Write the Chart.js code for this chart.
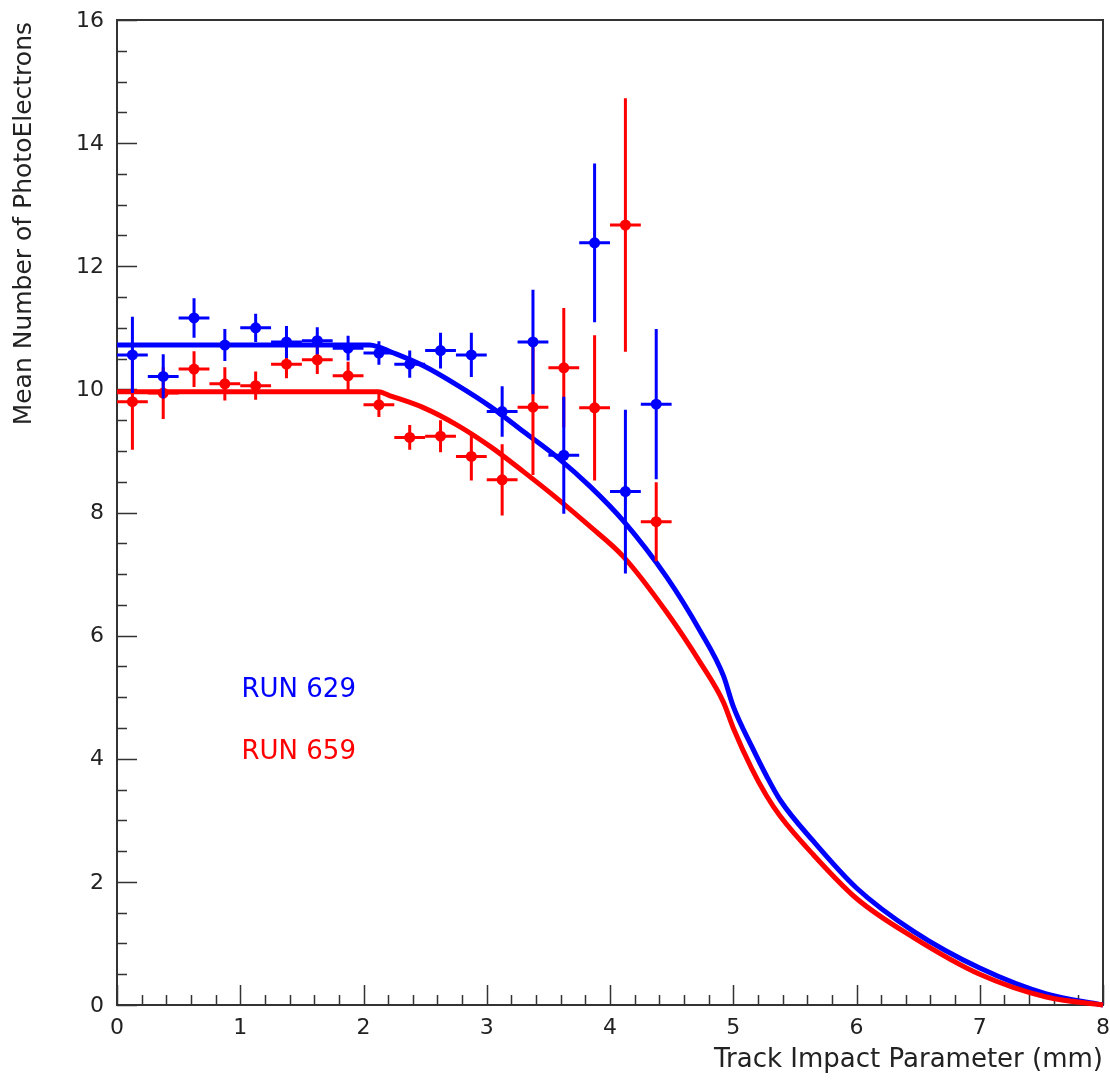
<!DOCTYPE html>
<html>
<head>
<meta charset="utf-8">
<script src="https://cdn.jsdelivr.net/npm/chart.js@4.4.0/dist/chart.umd.min.js"></script>
<style>
  html, body { margin: 0; padding: 0; background: #ffffff; }
  #wrap { width: 1110px; height: 1080px; }
</style>
</head>
<body>
<div id="wrap"><canvas id="c" width="1110" height="1080"></canvas></div>
<script>
// ---- data ----
const binCenters = [0.125, 0.375, 0.625, 0.875, 1.125, 1.375, 1.625, 1.875, 2.125,
                    2.375, 2.625, 2.875, 3.125, 3.375, 3.625, 3.875, 4.125, 4.375];
const binHalfWidth = 0.125;

const blueValues = [10.56, 10.21, 11.16, 10.72, 11.00, 10.77, 10.79, 10.67, 10.59,
                    10.41, 10.63, 10.56, 9.64, 10.77, 8.93, 12.38, 8.34, 9.76];
const blueErrors = [0.62, 0.36, 0.32, 0.26, 0.23, 0.26, 0.22, 0.20, 0.19,
                    0.22, 0.29, 0.36, 0.41, 0.85, 0.95, 1.29, 1.33, 1.22];

const redValues  = [9.80, 9.94, 10.33, 10.09, 10.06, 10.41, 10.48, 10.22, 9.75,
                    9.22, 9.24, 8.91, 8.53, 9.71, 10.35, 9.70, 12.67, 7.85];
const redErrors  = [0.78, 0.42, 0.29, 0.27, 0.23, 0.23, 0.23, 0.23, 0.20,
                    0.20, 0.26, 0.39, 0.58, 1.10, 0.97, 1.18, 2.06, 0.64];

const fitX    = [0, 1, 2.05, 2.12, 2.21, 2.49, 2.76, 3.03, 3.30, 3.57, 3.84, 4.11, 4.46,
                 4.73, 4.92, 5.0, 5.15, 5.27, 5.38, 5.65, 6.0, 6.46, 7.0, 7.54, 8.0];
const blueFit = [10.72, 10.72, 10.72, 10.69, 10.62, 10.38, 10.07, 9.72, 9.31, 8.90, 8.42, 7.86, 6.95,
                 6.08, 5.35, 4.85, 4.20, 3.72, 3.33, 2.66, 1.90, 1.20, 0.60, 0.18, 0];
const redFit  = [9.96, 9.96, 9.96, 9.96, 9.90, 9.70, 9.42, 9.07, 8.66, 8.23, 7.77, 7.28, 6.38,
                 5.57, 4.92, 4.50, 3.84, 3.40, 3.07, 2.44, 1.73, 1.10, 0.50, 0.13, 0];

const xTickLabels = ['0', '1', '2', '3', '4', '5', '6', '7', '8'];
const yTickLabels = ['0', '2', '4', '6', '8', '10', '12', '14', '16'];
const runLabels = ['RUN 629', 'RUN 659'];
const xTitle = 'Track Impact Parameter (mm)';
const yTitle = 'Mean Number of PhotoElectrons';

// ---- styling ----
const BLUE = '#0000ff';
const RED = '#ff0000';
const AXIS = '#333333';
const TEXT = '#222222';
const FONT = "'DejaVu Sans', 'Liberation Sans', sans-serif";

const toPts = (xs, ys) => xs.map((x, i) => ({ x: x, y: ys[i] }));

const errorBarPlugin = {
  id: 'errorBars',
  beforeDatasetDraw(chart, args) {
    const ds = chart.data.datasets[args.index];
    if (!ds.errors) return;
    const ctx = chart.ctx;
    const xs = chart.scales.x, ys = chart.scales.y;
    ctx.save();
    ctx.strokeStyle = ds.borderColor;
    ctx.lineWidth = 3;
    ctx.lineCap = 'butt';
    ds.data.forEach((p, i) => {
      const e = ds.errors[i];
      const px = xs.getPixelForValue(p.x);
      const py = ys.getPixelForValue(p.y);
      ctx.beginPath();
      ctx.moveTo(px, ys.getPixelForValue(p.y - e));
      ctx.lineTo(px, ys.getPixelForValue(p.y + e));
      ctx.moveTo(xs.getPixelForValue(p.x - binHalfWidth), py);
      ctx.lineTo(xs.getPixelForValue(p.x + binHalfWidth), py);
      ctx.stroke();
    });
    ctx.restore();
  }
};

// frame, ticks (major + minor), tick labels, axis titles, run labels
const axesPlugin = {
  id: 'rootAxes',
  beforeDatasetsDraw(chart) {
    const ctx = chart.ctx;
    const a = chart.chartArea;
    const xs = chart.scales.x, ys = chart.scales.y;
    ctx.save();
    ctx.strokeStyle = AXIS;
    ctx.lineWidth = 2;
    ctx.strokeRect(a.left, a.top, a.right - a.left, a.bottom - a.top);
    ctx.lineWidth = 1.5;
    ctx.beginPath();
    // x: major every 1, 4 minor between
    for (let i = 0; i <= 40; i++) {
      const px = Math.round(xs.getPixelForValue(i / 5)) + 0.5;
      const len = (i % 5 === 0) ? 20 : 10;
      ctx.moveTo(px, a.bottom);
      ctx.lineTo(px, a.bottom - len);
    }
    // y: major every 2, 3 minor between
    for (let i = 0; i <= 32; i++) {
      const py = Math.round(ys.getPixelForValue(i / 2)) + 0.5;
      const len = (i % 4 === 0) ? 20 : 10;
      ctx.moveTo(a.left, py);
      ctx.lineTo(a.left + len, py);
    }
    ctx.stroke();

    ctx.fillStyle = TEXT;
    ctx.font = '22px ' + FONT;
    ctx.textAlign = 'center';
    ctx.textBaseline = 'middle';
    xTickLabels.forEach((lab, i) => {
      ctx.fillText(lab, xs.getPixelForValue(i), a.bottom + 23);
    });
    ctx.textAlign = 'right';
    yTickLabels.forEach((lab, i) => {
      ctx.fillText(lab, a.left - 13, ys.getPixelForValue(i * 2) + 1);
    });

    ctx.font = '26px ' + FONT;
    ctx.textAlign = 'right';
    ctx.fillText(xTitle, a.right, a.bottom + 55);

    ctx.save();
    ctx.font = '25px ' + FONT;
    ctx.translate(24, a.top + 2);
    ctx.rotate(-Math.PI / 2);
    ctx.textAlign = 'right';
    ctx.textBaseline = 'middle';
    ctx.fillText(yTitle, 0, 0);
    ctx.restore();
    ctx.restore();
  },
  afterDraw(chart) {
    const ctx = chart.ctx;
    const xs = chart.scales.x, ys = chart.scales.y;
    ctx.save();
    ctx.font = '26px ' + FONT;
    ctx.textAlign = 'left';
    ctx.textBaseline = 'alphabetic';
    const lx = xs.getPixelForValue(1.01);
    ctx.fillStyle = BLUE;
    ctx.fillText(runLabels[0], lx, ys.getPixelForValue(5.0));
    ctx.fillStyle = RED;
    ctx.fillText(runLabels[1], lx, ys.getPixelForValue(4.0));
    ctx.restore();
  }
};

new Chart(document.getElementById('c'), {
  type: 'scatter',
  data: {
    datasets: [
      {
        label: 'RUN 629',
        data: toPts(binCenters, blueValues),
        errors: blueErrors,
        showLine: false,
        pointRadius: 5.5,
        pointBackgroundColor: BLUE,
        pointBorderColor: BLUE,
        borderColor: BLUE,
        pointBorderWidth: 0,
        order: 0,
        clip: false
      },
      {
        label: 'RUN 659',
        data: toPts(binCenters, redValues),
        errors: redErrors,
        showLine: false,
        pointRadius: 5.5,
        pointBackgroundColor: RED,
        pointBorderColor: RED,
        borderColor: RED,
        pointBorderWidth: 0,
        order: 1,
        clip: false
      },
      {
        label: 'fit 659',
        data: toPts(fitX, redFit),
        showLine: true,
        pointRadius: 0,
        borderColor: RED,
        borderWidth: 5,
        cubicInterpolationMode: 'monotone',
        order: 2,
        clip: false
      },
      {
        label: 'fit 629',
        data: toPts(fitX, blueFit),
        showLine: true,
        pointRadius: 0,
        borderColor: BLUE,
        borderWidth: 5,
        cubicInterpolationMode: 'monotone',
        order: 3,
        clip: false
      }
    ]
  },
  options: {
    responsive: false,
    animation: false,
    devicePixelRatio: 1,
    layout: { padding: { left: 117, right: 7, top: 20, bottom: 75 } },
    plugins: { legend: { display: false }, tooltip: { enabled: false } },
    scales: {
      x: { type: 'linear', min: 0, max: 8, display: false },
      y: { type: 'linear', min: 0, max: 16, display: false }
    }
  },
  plugins: [errorBarPlugin, axesPlugin]
});
</script>
</body>
</html>
